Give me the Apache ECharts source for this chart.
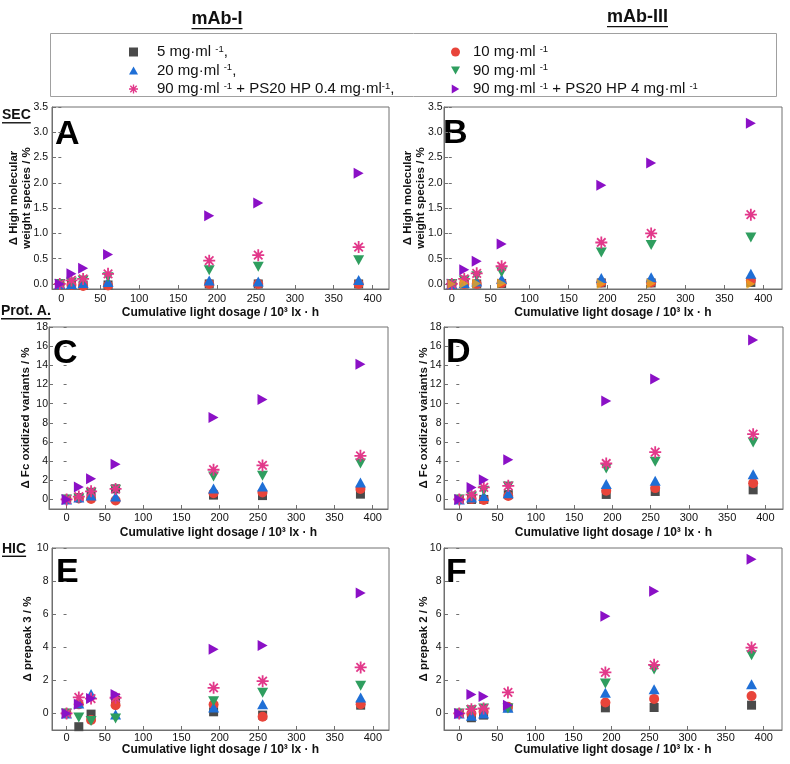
<!DOCTYPE html>
<html><head><meta charset="utf-8">
<script src="https://cdn.jsdelivr.net/npm/echarts@6/dist/echarts.min.js"></script>
<style>html,body{margin:0;padding:0;background:#fff}#c{width:790px;height:764px}</style>
</head><body><div id="c"></div>
<script>
// ---------- DATA ----------
const seriesNames = [
  '5 mg·ml -1,',
  '10 mg·ml -1',
  '20 mg·ml -1,',
  '90 mg·ml -1',
  '90 mg·ml -1 + PS20 HP 0.4 mg·ml-1,',
  '90 mg·ml -1 + PS20 HP 4 mg·ml -1'
];
const dose  = [0, 16, 32, 64, 192, 256, 384];
const doseA = [-2, 13, 28, 60, 190, 253, 382];

const xTicks    = [0, 50, 100, 150, 200, 250, 300, 350, 400];
const secTicks  = [0, 0.5, 1, 1.5, 2, 2.5, 3, 3.5];
const protTicks = [0, 2, 4, 6, 8, 10, 12, 14, 16, 18];
const hicTicks  = [0, 2, 4, 6, 8, 10];

// Panel A (SEC, mAb-I)
const A_5    = [0, -0.01, -0.02, -0.02, 0.0, 0.0, 0.0];
const A_10   = [0, -0.02, -0.04, -0.03, 0.0, 0.0, 0.0];
const A_20   = [0, 0.0, 0.02, 0.04, 0.07, 0.05, 0.08];
const A_90   = [0, 0.03, 0.07, 0.13, 0.27, 0.34, 0.47];
const A_90p04 = [0, 0.07, 0.1, 0.2, 0.46, 0.57, 0.73];
const A_90p4 = [0, 0.2, 0.31, 0.58, 1.35, 1.6, 2.19];
// Panel B (SEC, mAb-III)
const B_5    = [0, 0.0, 0.0, 0.01, 0.02, 0.02, 0.03];
const B_10   = [0, 0.0, 0.0, 0.02, 0.03, 0.03, 0.07];
const B_20   = [0, 0.02, 0.05, 0.1, 0.12, 0.13, 0.2];
const B_90   = [0, 0.07, 0.15, 0.23, 0.62, 0.77, 0.92];
const B_90p04 = [0, 0.1, 0.21, 0.35, 0.82, 1.0, 1.37];
const B_90p4 = [0, 0.28, 0.45, 0.79, 1.95, 2.39, 3.18];
const B_extra = [0, 0.01, 0.01, 0.01, 0.0, 0.01, 0.0];
// Panel C (Prot. A., mAb-I)
const C_5    = [0, 0.2, 0.6, 1.1, 0.45, 0.4, 0.55];
const C_10   = [0, 0.1, 0.05, -0.1, 0.65, 0.73, 1.08];
const C_20   = [0, 0.2, 0.4, 0.3, 1.15, 1.35, 1.77];
const C_90   = [0, 0.1, 0.7, 1.0, 2.4, 2.47, 3.75];
const C_90p04 = [0, 0.3, 0.85, 1.1, 3.1, 3.55, 4.55];
const C_90p4 = [0, 1.3, 2.15, 3.68, 8.55, 10.42, 14.1];
// Panel D (Prot. A., mAb-III)
const D_5    = [0, 0.0, 0.0, 0.5, 0.52, 0.83, 1.0];
const D_10   = [0, 0.05, -0.05, 0.35, 0.9, 1.18, 1.7];
const D_20   = [0, 0.2, 0.35, 0.65, 1.6, 1.95, 2.64];
const D_90   = [0, 0.3, 0.9, 1.35, 3.23, 3.93, 5.94];
const D_90p04 = [0, 0.5, 1.25, 1.42, 3.75, 4.93, 6.81];
const D_90p4 = [0, 1.25, 2.05, 4.13, 10.28, 12.58, 16.64];
// Panel E (HIC, mAb-I)
const E_5    = [0, -0.8, -0.04, 0.8, 0.1, -0.1, 0.5];
const E_10   = [0, 0.55, -0.4, 0.5, 0.54, -0.2, 0.56];
const E_20   = [0, 0.6, 1.17, -0.06, 0.36, 0.56, 0.97];
const E_90   = [0, -0.24, -0.46, -0.3, 0.74, 1.25, 1.67];
const E_90p04 = [0, 0.97, 0.9, 0.95, 1.55, 1.95, 2.78];
const E_90p4 = [0, 0.55, 0.9, 1.15, 3.88, 4.1, 7.28];
// Panel F (HIC, mAb-III)
const F_5    = [0, -0.26, -0.1, 0.35, 0.34, 0.36, 0.5];
const F_10   = [0, 0.0, 0.1, 0.4, 0.66, 0.88, 1.05];
const F_20   = [0, -0.14, 0.0, 0.35, 1.25, 1.47, 1.77];
const F_90   = [0, 0.2, 0.3, 0.3, 1.81, 2.66, 3.52];
const F_90p04 = [0, 0.26, 0.3, 1.27, 2.48, 2.94, 3.98];
const F_90p4 = [0, 1.15, 1.03, 0.5, 5.88, 7.38, 9.32];

// ---------- STYLE / LAYOUT ----------
const FONT = '"Liberation Sans", Arial, Helvetica, sans-serif';
const AX = '#707070';
const colors = ['#4a4a4a', '#e8443a', '#1f6fd6', '#2f9e5f', '#e2388a', '#8b10c6'];
const ASTER = 'path://M0,8.5L20,8.5L20,11.5L0,11.5Z M8.5,0L11.5,0L11.5,20L8.5,20Z M3.99,1.87L18.13,16.01L16.01,18.13L1.87,3.99Z M18.13,3.99L3.99,18.13L1.87,16.01L16.01,1.87Z';
const symbols = [
  {symbol: 'rect', size: 9},
  {symbol: 'circle', size: 10},
  {symbol: 'path://M6,0L12,10.4L0,10.4Z', size: [11, 10]},
  {symbol: 'path://M0,0L12,0L6,10.4Z', size: [11, 10]},
  {symbol: ASTER, size: 12},
  {symbol: 'path://M0,0L10,6L0,12Z', size: [10, 11]}
];

const panels = [
  {grid: {left: 52, top: 107, width: 337, height: 182}, xs: doseA, xr: [-12, 421], yr: [-0.1, 3.5], yt: secTicks, fmt: v => v.toFixed(1),
   data: [A_5, A_10, A_20, A_90, A_90p04, A_90p4], yName: 'Δ High molecular\nweight species / %', yGap: 18.5, yLM: 4, xGap: 18, xLM: 4},
  {grid: {left: 444, top: 107, width: 338, height: 182}, xs: dose, xr: [-10, 424], yr: [-0.1, 3.5], yt: secTicks, fmt: v => v.toFixed(1),
   data: [B_5, B_10, B_20, B_90, B_90p04, B_90p4], yName: 'Δ High molecular\nweight species / %', yGap: 16.5, yLM: 1.5, xGap: 18, xLM: 4},
  {grid: {left: 49, top: 327, width: 339, height: 182}, xs: dose, xr: [-23, 420], yr: [-1, 18], yt: protTicks, fmt: v => String(v),
   data: [C_5, C_10, C_20, C_90, C_90p04, C_90p4], yName: 'Δ Fc oxidized variants / %', yGap: 16.5, yLM: 1, xGap: 18, xLM: 3},
  {grid: {left: 444, top: 327, width: 339, height: 182}, xs: dose, xr: [-20, 423], yr: [-1, 18], yt: protTicks, fmt: v => String(v),
   data: [D_5, D_10, D_20, D_90, D_90p04, D_90p4], yName: 'Δ Fc oxidized variants / %', yGap: 13.5, yLM: 2.5, xGap: 18, xLM: 3},
  {grid: {left: 52, top: 548, width: 337, height: 182}, xs: dose, xr: [-19, 421], yr: [-1, 10], yt: hicTicks, fmt: v => String(v),
   data: [E_5, E_10, E_20, E_90, E_90p04, E_90p4], yName: 'Δ prepeak 3 / %', yGap: 18, yLM: 3.5, xGap: 14, xLM: 2},
  {grid: {left: 444, top: 548, width: 338, height: 182}, xs: dose, xr: [-20, 424], yr: [-1, 10], yt: hicTicks, fmt: v => String(v),
   data: [F_5, F_10, F_20, F_90, F_90p04, F_90p4], yName: 'Δ prepeak 2 / %', yGap: 13.5, yLM: 2.5, xGap: 14, xLM: 2}
];

const grids = [], xAxes = [], yAxes = [], yAxesR = [], series = [];
panels.forEach((p, gi) => {
  grids.push(Object.assign({show: true, borderColor: AX, borderWidth: 1, containLabel: false}, p.grid));
  xAxes.push({
    type: 'value', gridIndex: gi, min: p.xr[0], max: p.xr[1],
    name: 'Cumulative light dosage / 10³ lx · h', nameLocation: 'middle', nameGap: p.xGap, nameMoveOverlap: false,
    nameTextStyle: {fontSize: 12, fontWeight: 'bold', fontFamily: FONT, color: '#111'},
    axisLine: {show: true, onZero: false, lineStyle: {color: AX, width: 1}},
    axisTick: {show: true, inside: true, length: 4, customValues: xTicks, lineStyle: {color: AX}},
    axisLabel: {customValues: xTicks, margin: p.xLM, fontSize: 11, color: '#111', fontFamily: FONT},
    splitLine: {show: false}
  });
  yAxes.push({
    type: 'value', gridIndex: gi, min: p.yr[0], max: p.yr[1], position: 'left',
    name: p.yName, nameLocation: 'middle', nameGap: p.yGap, nameRotate: 90, nameMoveOverlap: false,
    nameTextStyle: {fontSize: 11.5, fontWeight: 'bold', fontFamily: FONT, color: '#111', lineHeight: 13},
    axisLine: {show: true, onZero: false, lineStyle: {color: AX, width: 1}},
    axisTick: {show: true, inside: true, length: 4, customValues: p.yt, lineStyle: {color: AX}},
    axisLabel: {customValues: p.yt, formatter: p.fmt, margin: p.yLM, fontSize: 10.5, color: '#111', fontFamily: FONT},
    splitLine: {show: false}
  });
  yAxesR.push({
    type: 'value', gridIndex: gi, min: p.yr[0], max: p.yr[1], position: 'right',
    axisLine: {show: false}, axisLabel: {show: false}, splitLine: {show: false},
    axisTick: {show: true, inside: true, length: 3, customValues: p.yt, lineStyle: {color: AX}}
  });
  p.data.forEach((ys, k) => {
    series.push({
      type: 'scatter', name: seriesNames[k], xAxisIndex: gi, yAxisIndex: gi,
      symbol: symbols[k].symbol, symbolSize: symbols[k].size,
      itemStyle: {color: colors[k], opacity: 1},
      data: p.xs.map((x, i) => [x, ys[i]])
    });
  });
  if (gi === 1) {
    series.push({
      type: 'scatter', name: 'other', xAxisIndex: gi, yAxisIndex: gi,
      symbol: symbols[5].symbol, symbolSize: [9, 10],
      itemStyle: {color: '#eea51c'},
      data: p.xs.map((x, i) => [x, B_extra[i]])
    });
  }
});

const legendText = {
  fontSize: 15, fontFamily: FONT, color: '#111', lineHeight: 16,
  rich: {s: {fontSize: 9.5, lineHeight: 9, verticalAlign: 'top', fontFamily: FONT, color: '#111'}}
};
const legFmt = name => name.split('-1').join('{s|-1}');

// text measuring for underlines
const mctx = document.createElement('canvas').getContext('2d');
function tw(t, font) { mctx.font = font; return mctx.measureText(t).width; }

function underlined(text, cx, cy, size, align) {
  const font = 'bold ' + size + 'px ' + FONT;
  const w = tw(text, font);
  const x0 = align === 'left' ? cx : cx - w / 2;
  return [
    {type: 'text', x: x0, y: cy, style: {text: text, font: font, fill: '#111', textAlign: 'left', textVerticalAlign: 'middle'}},
    {type: 'rect', shape: {x: x0, y: cy + size * 0.47, width: w, height: 1.4}, style: {fill: '#111'}}
  ];
}
function letter(t, x, y) {
  return {type: 'text', x: x, y: y, style: {text: t, font: 'bold 34px ' + FONT, fill: '#000', textAlign: 'left', textVerticalAlign: 'middle'}};
}

const graphic = [
  {type: 'rect', shape: {x: 50.5, y: 33.5, width: 726, height: 63}, style: {fill: 'none', stroke: '#a0a0a0', lineWidth: 1}},
  ...underlined('mAb-I', 217, 19.5, 18, 'center'),
  ...underlined('mAb-III', 637.5, 17.5, 18, 'center'),
  ...underlined('SEC', 2, 115.5, 14, 'left'),
  ...underlined('Prot. A.', 1, 311.5, 14, 'left'),
  ...underlined('HIC', 2, 549, 14, 'left'),
  letter('A', 55, 135), letter('B', 443, 134), letter('C', 53, 354),
  letter('D', 446, 353), letter('E', 56, 573), letter('F', 446, 573)
];

const option = {
  animation: false,
  backgroundColor: '#fff',
  grid: grids,
  xAxis: xAxes,
  yAxis: yAxes.concat(yAxesR),
  legend: [
    {orient: 'vertical', left: 124, top: 39, itemWidth: 9, itemHeight: 9, itemGap: 2.5, selectedMode: false,
     data: [seriesNames[0], seriesNames[2], seriesNames[4]], formatter: legFmt,
     textStyle: Object.assign({padding: [0, 0, 0, 14]}, legendText)},
    {orient: 'vertical', left: 446, top: 39, itemWidth: 9, itemHeight: 9, itemGap: 2.5, selectedMode: false,
     data: [seriesNames[1], seriesNames[3], seriesNames[5]], formatter: legFmt,
     textStyle: Object.assign({padding: [0, 0, 0, 8]}, legendText)}
  ],
  graphic: graphic,
  series: series
};
const chart = echarts.init(document.getElementById('c'));
chart.setOption(option);
</script>
</body></html>
